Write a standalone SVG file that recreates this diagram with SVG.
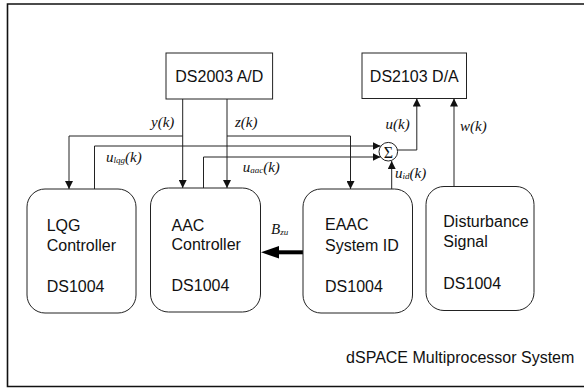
<svg xmlns="http://www.w3.org/2000/svg" width="584" height="389" viewBox="0 0 584 389">
<style>
.frame{fill:none;stroke:#111;stroke-width:1.6}
.box{fill:#fff;stroke:#222;stroke-width:1}
.node{fill:#fff;stroke:#222;stroke-width:1}
.lbl{font-family:"Liberation Sans",Arial,sans-serif;font-size:16px;fill:#111}
.sig{font-family:"Liberation Serif","Times New Roman",serif;font-style:italic;font-size:15px;fill:#111}
.sub{font-size:9px}
.wire{fill:none;stroke:#222;stroke-width:1}
</style>
<defs>
<marker id="ah" viewBox="0 0 8 8" refX="8" refY="4" markerWidth="8" markerHeight="8" markerUnits="userSpaceOnUse" orient="auto">
<path d="M0,0 L8,4 L0,8 Z" fill="#111"/>
</marker>
</defs>
<rect width="584" height="389" fill="#fff"/>
<path class="frame" d="M600,4 H7.5 V386.5 H600"/>

<g id="connectors">
<path class="wire" d="M182.7,99 V188" marker-end="url(#ah)"/>
<path class="wire" d="M182.7,136 H69 V189" marker-end="url(#ah)"/>
<path class="wire" d="M227,99 V188" marker-end="url(#ah)"/>
<path class="wire" d="M227,136 H350.5 V189" marker-end="url(#ah)"/>
<path class="wire" d="M94.5,189 V146 H380.5" marker-end="url(#ah)"/>
<path class="wire" d="M203.5,188 V157 H380.5" marker-end="url(#ah)"/>
<path class="wire" d="M391.7,189 V161" marker-end="url(#ah)"/>
<path class="wire" d="M397,150 H416.8 V98.5" marker-end="url(#ah)"/>
<path class="wire" d="M454,186.5 V98.5" marker-end="url(#ah)"/>
<path d="M303,252.3 H277" fill="none" stroke="#000" stroke-width="4"/>
<path d="M261,252.3 L279,246 L279,258.6 Z" fill="#000"/>
<text class="sig" x="151" y="127">y(k)</text>
<text class="sig" x="235" y="127">z(k)</text>
<text class="sig" x="385.5" y="128.5">u(k)</text>
<text class="sig" x="460" y="131">w(k)</text>
<text class="sig" x="106" y="161.5">u<tspan class="sub" dy="1">lqg</tspan><tspan dy="-1">(k)</tspan></text>
<text class="sig" x="242.7" y="171.5">u<tspan class="sub" dy="1">aac</tspan><tspan dy="-1">(k)</tspan></text>
<text class="sig" x="395" y="178">u<tspan class="sub" dy="1">id</tspan><tspan dy="-1">(k)</tspan></text>
<text class="sig" x="271" y="234" font-size="16">B<tspan class="sub" font-size="10" dy="1">zu</tspan></text>
</g>

<g id="sum">
<circle cx="388.3" cy="151.7" r="9.3" fill="#fff" stroke="#222" stroke-width="1"/>
<text x="388.3" y="157.5" text-anchor="middle" font-family="Liberation Serif,'Times New Roman',serif" font-size="16" fill="#111">Σ</text>
</g>

<g id="ad">
<rect class="box" x="166" y="53" width="106.6" height="46"/>
<text class="lbl" x="219.3" y="82" text-anchor="middle">DS2003 A/D</text>
</g>

<g id="da">
<rect class="box" x="362" y="53" width="104.5" height="45.5"/>
<text class="lbl" x="414.3" y="82" text-anchor="middle">DS2103 D/A</text>
</g>

<g id="lqg">
<rect class="node" x="27" y="189" width="109" height="124" rx="18" ry="18"/>
<text class="lbl" x="46.7" y="231">LQG</text>
<text class="lbl" x="46.7" y="251">Controller</text>
<text class="lbl" x="46.7" y="291.7">DS1004</text>
</g>

<g id="aac">
<rect class="node" x="150.5" y="188" width="110" height="124" rx="18" ry="18"/>
<text class="lbl" x="171.5" y="230.5">AAC</text>
<text class="lbl" x="171.5" y="250">Controller</text>
<text class="lbl" x="171.5" y="290.7">DS1004</text>
</g>

<g id="eaac">
<rect class="node" x="303" y="189" width="109.5" height="124" rx="18" ry="18"/>
<text class="lbl" x="325" y="229.5">EAAC</text>
<text class="lbl" x="325" y="250.5">System ID</text>
<text class="lbl" x="325" y="291.7">DS1004</text>
</g>

<g id="dist">
<rect class="node" x="426" y="186.5" width="108" height="124" rx="18" ry="18"/>
<text class="lbl" x="443.3" y="226.7">Disturbance</text>
<text class="lbl" x="443.3" y="247.3">Signal</text>
<text class="lbl" x="443.3" y="289.3">DS1004</text>
</g>

<text class="lbl" x="574.3" y="363.3" text-anchor="end">dSPACE Multiprocessor System</text>
</svg>
